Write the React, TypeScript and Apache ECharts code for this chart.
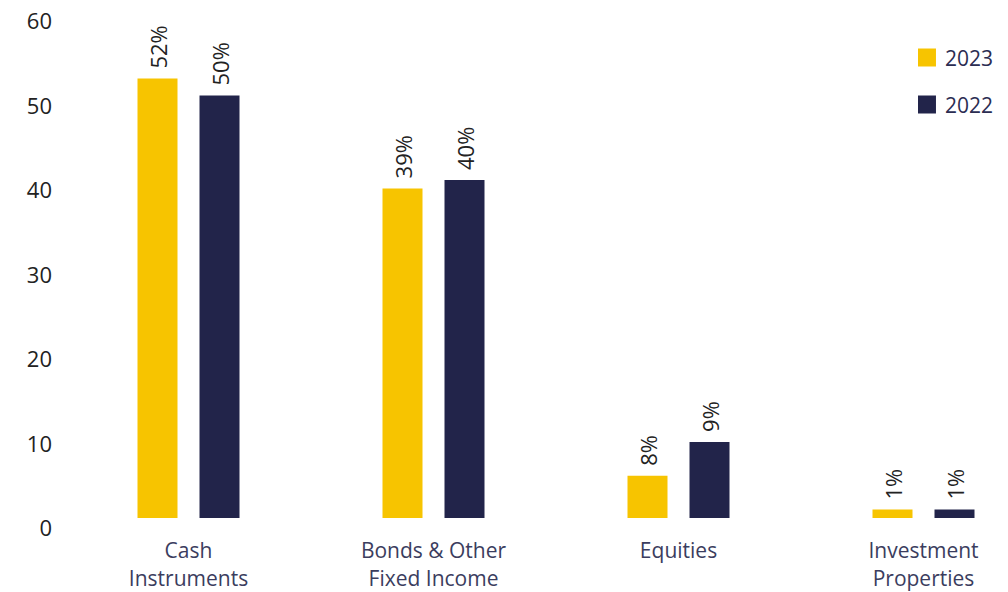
import React, { useEffect, useRef } from "react";
import * as echarts from "echarts";

const categories = ["Cash\nInstruments", "Bonds & Other\nFixed Income", "Equities", "Investment\nProperties"];
const values2023 = [52, 39, 5, 1];
const values2022 = [50, 40, 9, 1];
const labels2023 = ["52%", "39%", "8%", "1%"];
const labels2022 = ["50%", "40%", "9%", "1%"];
const yTicks = { min: 0, max: 60, interval: 10 };

const FONT = "'Open Sans', sans-serif";

export default function App() {
  const ref = useRef<HTMLDivElement>(null);
  useEffect(() => {
    document.body.style.margin = "0";
    const chart = echarts.init(ref.current!, undefined, { renderer: "svg" });
    const barLabel = (labels: string[]) => ({
      show: true,
      position: "top",
      rotate: 90,
      align: "left",
      verticalAlign: "middle",
      distance: 10,
      fontFamily: FONT,
      fontSize: 22,
      color: "#222222",
      formatter: (p: any) => labels[p.dataIndex],
    });
    chart.setOption({
      animation: false,
      textStyle: { fontFamily: FONT },
      grid: { left: 66, width: 980, top: 11, bottom: 74, outerBoundsMode: "none", containLabel: false },
      legend: {
        orient: "vertical",
        right: 10,
        top: 42,
        itemWidth: 18,
        itemHeight: 18,
        itemGap: 26,
        icon: "rect",
        textStyle: { fontFamily: FONT, fontSize: 21, color: "#2b2d52", padding: [0, 0, 0, 4] },
        data: ["2023", "2022"],
      },
      xAxis: {
        type: "category",
        data: categories,
        axisLine: { show: false },
        axisTick: { show: false },
        axisLabel: {
          fontFamily: FONT,
          fontSize: 21,
          color: "#3b3d5e",
          lineHeight: 28,
          margin: 18,
        },
      },
      yAxis: {
        type: "value",
        min: yTicks.min,
        max: yTicks.max,
        interval: yTicks.interval,
        splitLine: { show: false },
        axisLine: { show: false },
        axisTick: { show: false },
        axisLabel: {
          fontFamily: FONT,
          fontSize: 22,
          color: "#222222",
          margin: 14,
          verticalAlign: "top",
          lineHeight: 18,
        },
      },
      series: [
        {
          name: "2023",
          type: "bar",
          data: values2023,
          barWidth: 40,
          barGap: "55%",
          itemStyle: { color: "#F7C400" },
          label: barLabel(labels2023),
        },
        {
          name: "2022",
          type: "bar",
          data: values2022,
          barWidth: 40,
          itemStyle: { color: "#22244A" },
          label: barLabel(labels2022),
        },
      ],
    });
    return () => chart.dispose();
  }, []);
  return <div ref={ref} style={{ width: 1008, height: 592 }} />;
}
